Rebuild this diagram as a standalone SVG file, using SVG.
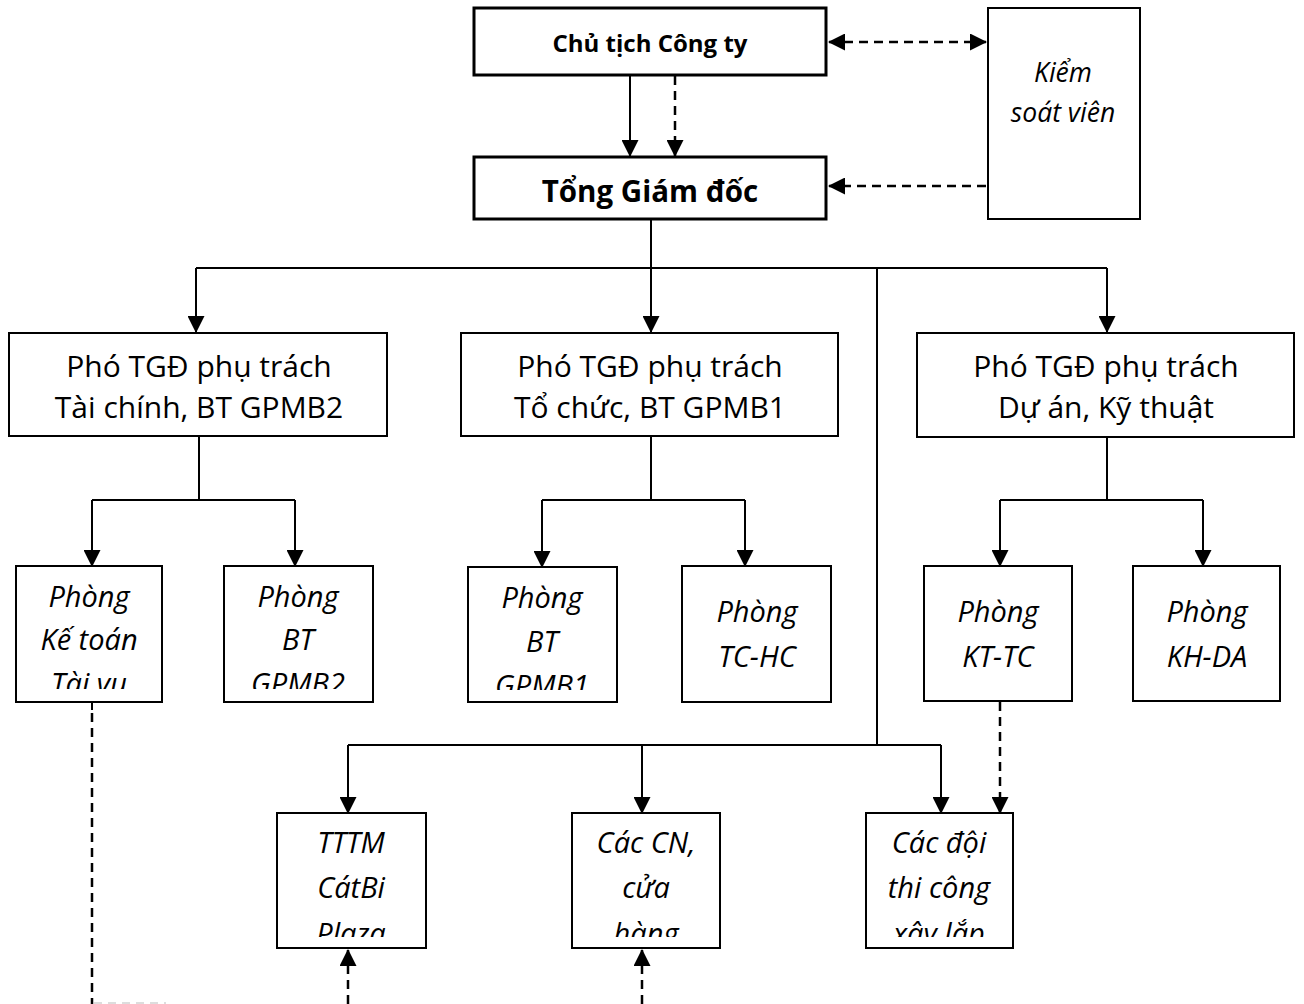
<svg xmlns="http://www.w3.org/2000/svg" width="1304" height="1004" viewBox="0 0 1304 1004">
  <style>
    .box { fill: #ffffff; stroke: #000000; stroke-width: 2; }
    .box.thick { stroke-width: 3; }
    .t { font-family: "Open Sans", "Noto Sans", "DejaVu Sans", sans-serif; fill: #000000; text-anchor: middle; }
    .title { font-weight: bold; }
    .dept { font-size: 30px; }
    .unit { font-size: 29px; font-style: italic; }
    .ln { fill: none; stroke: #000000; stroke-width: 2; }
    .dash { stroke-width: 2.5; stroke-dasharray: 9 6; }
    .arr { marker-end: url(#head); }
  </style>
  <defs>
    <marker id="head" markerUnits="userSpaceOnUse" markerWidth="17" markerHeight="17" refX="16" refY="8.5" orient="auto-start-reverse">
      <path d="M0,0 L17,8.5 L0,17 Z" fill="#000000"/>
    </marker>
    <!-- text windows: the last line of each small box is cut by the frame padding -->
    <clipPath id="c-ktv"><rect x="17" y="567" width="144" height="122"/></clipPath>
    <clipPath id="c-bt2"><rect x="225" y="567" width="147" height="122"/></clipPath>
    <clipPath id="c-bt1"><rect x="469" y="568" width="147" height="122"/></clipPath>
    <clipPath id="c-tttm"><rect x="278" y="814" width="147" height="123"/></clipPath>
    <clipPath id="c-cn"><rect x="573" y="814" width="146" height="123"/></clipPath>
    <clipPath id="c-doi"><rect x="867" y="814" width="145" height="123"/></clipPath>
  </defs>

  <!-- connectors -->
  <g id="connectors">
    <!-- chairman to general director -->
    <line class="ln arr" x1="630" y1="76" x2="630" y2="156"/>
    <line class="ln dash arr" x1="675" y1="76" x2="675" y2="156"/>
    <!-- supervisor links -->
    <line class="ln dash arr" x1="829" y1="42" x2="986" y2="42" style="marker-start:url(#head)"/>
    <line class="ln dash arr" x1="986" y1="186" x2="829" y2="186"/>
    <!-- general director to deputies -->
    <polyline class="ln" points="651,219 651,268"/>
    <line class="ln" x1="196" y1="268" x2="1107" y2="268"/>
    <line class="ln arr" x1="196" y1="268" x2="196" y2="332"/>
    <line class="ln arr" x1="651" y1="268" x2="651" y2="332"/>
    <line class="ln arr" x1="1107" y1="268" x2="1107" y2="332"/>
    <!-- general director to branch units -->
    <line class="ln" x1="877" y1="268" x2="877" y2="745"/>
    <line class="ln" x1="348" y1="745" x2="941" y2="745"/>
    <line class="ln arr" x1="348" y1="745" x2="348" y2="813"/>
    <line class="ln arr" x1="642" y1="745" x2="642" y2="813"/>
    <line class="ln arr" x1="941" y1="745" x2="941" y2="813"/>
    <!-- deputy (finance) to departments -->
    <line class="ln" x1="199" y1="436" x2="199" y2="500"/>
    <line class="ln" x1="92" y1="500" x2="295" y2="500"/>
    <line class="ln arr" x1="92" y1="500" x2="92" y2="566"/>
    <line class="ln arr" x1="295" y1="500" x2="295" y2="566"/>
    <!-- deputy (organisation) to departments -->
    <line class="ln" x1="651" y1="436" x2="651" y2="500"/>
    <line class="ln" x1="542" y1="500" x2="745" y2="500"/>
    <line class="ln arr" x1="542" y1="500" x2="542" y2="567"/>
    <line class="ln arr" x1="745" y1="500" x2="745" y2="566"/>
    <!-- deputy (projects) to departments -->
    <line class="ln" x1="1107" y1="437" x2="1107" y2="500"/>
    <line class="ln" x1="1000" y1="500" x2="1203" y2="500"/>
    <line class="ln arr" x1="1000" y1="500" x2="1000" y2="566"/>
    <line class="ln arr" x1="1203" y1="500" x2="1203" y2="566"/>
    <!-- dashed guidance lines -->
    <line class="ln" x1="92" y1="702" x2="92" y2="710"/>
    <line class="ln dash" x1="92" y1="713" x2="92" y2="1004"/>
    <line stroke="#dddddd" stroke-width="2" stroke-dasharray="8 6" x1="94" y1="1003" x2="166" y2="1003"/>
    <line class="ln dash arr" x1="1000" y1="702" x2="1000" y2="813"/>
    <line class="ln dash arr" x1="348" y1="1004" x2="348" y2="950"/>
    <line class="ln dash arr" x1="642" y1="1004" x2="642" y2="950"/>
  </g>

  <g id="chu-tich">
    <rect class="box thick" x="474" y="8" width="352" height="67"/>
    <text class="t title" x="650" y="52" font-size="24">Chủ tịch Công ty</text>
  </g>
  <g id="tong-giam-doc">
    <rect class="box thick" x="474" y="157" width="352" height="62"/>
    <text class="t title" x="650" y="202" font-size="29.5">Tổng Giám đốc</text>
  </g>
  <g id="kiem-soat-vien">
    <rect class="box" x="988" y="8" width="152" height="211"/>
    <text class="t" x="1063" y="82" font-size="26.5" font-style="italic">Kiểm</text>
    <text class="t" x="1063" y="122" font-size="26.5" font-style="italic">soát viên</text>
  </g>

  <g id="pho-tgd-tai-chinh">
    <rect class="box" x="9" y="333" width="378" height="103"/>
    <text class="t dept" x="199" y="377">Phó TGĐ phụ trách</text>
    <text class="t dept" x="199" y="418">Tài chính, BT GPMB2</text>
  </g>
  <g id="pho-tgd-to-chuc">
    <rect class="box" x="461" y="333" width="377" height="103"/>
    <text class="t dept" x="650" y="377">Phó TGĐ phụ trách</text>
    <text class="t dept" x="650" y="418">Tổ chức, BT GPMB1</text>
  </g>
  <g id="pho-tgd-du-an">
    <rect class="box" x="917" y="333" width="377" height="104"/>
    <text class="t dept" x="1106" y="377">Phó TGĐ phụ trách</text>
    <text class="t dept" x="1106" y="418">Dự án, Kỹ thuật</text>
  </g>

  <g id="phong-ke-toan">
    <rect class="box" x="16" y="566" width="146" height="136"/>
    <g clip-path="url(#c-ktv)">
      <text class="t unit" x="89" y="607">Phòng</text>
      <text class="t unit" x="89" y="650">Kế toán</text>
      <text class="t unit" x="89" y="694">Tài vụ</text>
    </g>
  </g>
  <g id="phong-bt-gpmb2">
    <rect class="box" x="224" y="566" width="149" height="136"/>
    <g clip-path="url(#c-bt2)">
      <text class="t unit" x="298" y="607">Phòng</text>
      <text class="t unit" x="298" y="650">BT</text>
      <text class="t unit" x="298" y="694">GPMB2</text>
    </g>
  </g>
  <g id="phong-bt-gpmb1">
    <rect class="box" x="468" y="567" width="149" height="135"/>
    <g clip-path="url(#c-bt1)">
      <text class="t unit" x="542" y="608">Phòng</text>
      <text class="t unit" x="542" y="652">BT</text>
      <text class="t unit" x="542" y="696">GPMB1</text>
    </g>
  </g>
  <g id="phong-tc-hc">
    <rect class="box" x="682" y="566" width="149" height="136"/>
    <text class="t unit" x="757" y="622">Phòng</text>
    <text class="t unit" x="757" y="667">TC-HC</text>
  </g>
  <g id="phong-kt-tc">
    <rect class="box" x="924" y="566" width="148" height="135"/>
    <text class="t unit" x="998" y="622">Phòng</text>
    <text class="t unit" x="998" y="667">KT-TC</text>
  </g>
  <g id="phong-kh-da">
    <rect class="box" x="1133" y="566" width="147" height="135"/>
    <text class="t unit" x="1207" y="622">Phòng</text>
    <text class="t unit" x="1207" y="667">KH-DA</text>
  </g>

  <g id="tttm-catbi">
    <rect class="box" x="277" y="813" width="149" height="135"/>
    <g clip-path="url(#c-tttm)">
      <text class="t unit" x="351" y="853">TTTM</text>
      <text class="t unit" x="351" y="898">CátBi</text>
      <text class="t unit" x="351" y="944">Plaza</text>
    </g>
  </g>
  <g id="cac-chi-nhanh">
    <rect class="box" x="572" y="813" width="148" height="135"/>
    <g clip-path="url(#c-cn)">
      <text class="t unit" x="646" y="853">Các CN,</text>
      <text class="t unit" x="646" y="898">cửa</text>
      <text class="t unit" x="646" y="944">hàng</text>
    </g>
  </g>
  <g id="cac-doi-thi-cong">
    <rect class="box" x="866" y="813" width="147" height="135"/>
    <g clip-path="url(#c-doi)">
      <text class="t unit" x="939" y="853">Các đội</text>
      <text class="t unit" x="939" y="898">thi công</text>
      <text class="t unit" x="939" y="944">xây lắp</text>
    </g>
  </g>
</svg>
